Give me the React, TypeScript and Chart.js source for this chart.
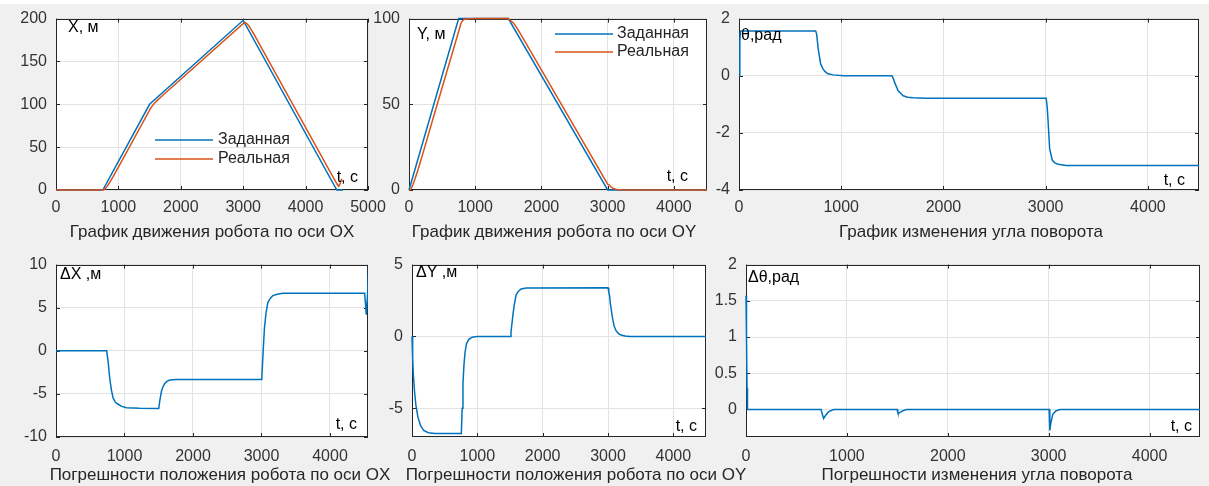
import React, { useEffect, useRef } from "react";
import { Chart, registerables } from "chart.js";

Chart.register(...registerables);

const BLUE = "#0072BD";
const ORANGE = "#D95319";
const GRID = "#e2e2e2";
const BOX = "#262626";
const TICKC = "#333333";
const FONT = "'Liberation Sans', Arial, Helvetica, sans-serif";
const FS_TICK = 16;
const FS_TEXT = 16;
const FS_TITLE = 17;

// ---------- data ----------
// Panel 1: X, м
const xSetT = [0, 750, 1500, 3000, 4500, 4600];
const xSetV = [0, 0, 100, 198, 0, 0];
const xRealT = [0, 745, 760, 786, 810, 835, 870, 908, 960, 1029, 1500, 1515, 1539, 1560, 1587, 1620, 1660, 1757, 3003, 3015, 3030, 3044, 3065, 3092, 3130, 3165, 3230, 3311, 4505, 4518, 4530, 4545, 4580];
const xRealV = [0, 0, 0.13, 1.5, 3.4, 5.83, 10, 14.87, 21.55, 30.6, 93.3, 95.18, 97.85, 99.72, 101.88, 104.29, 107.05, 113.46, 194.27, 194.52, 194.84, 194.89, 193.72, 191.46, 186.94, 182.62, 174.19, 163.62, 6.67, 5.5, 4.2, 6.0, 13];

// Panel 2: Y, м
const ySetT = [0, 750, 1500, 3000, 4500];
const ySetV = [0, 100, 100, 0, 0];
const yRealT = [0, 10, 20, 40, 60, 90, 130, 180, 250, 350, 755, 768, 780, 795, 812, 835, 870, 920, 1000, 1500, 1515, 1530, 1545, 1565, 1594, 1630, 1670, 1750, 3000, 3012, 3025, 3036, 3055, 3072, 3095, 3123, 3160, 3200, 3260, 3330, 4500];
const yRealV = [0, 0, 0.07, 1.43, 3.2, 6.4, 11.13, 17.45, 26.63, 39.92, 93.25, 95, 96.7, 98, 98.9, 99.5, 99.8, 99.95, 100, 100, 99.3, 98.9, 98.5, 97.87, 96.63, 94.48, 91.97, 86.7, 3.38, 3.1, 2.8, 2.3, 1.7, 1.2, 0.7, 0.4, 0.2, 0.1, 0.03, 0, 0];

// Panel 3: θ, рад
const thT = [0, 8, 15, 750, 760, 775, 798, 820, 840, 870, 922, 1020, 1495, 1510, 1524, 1557, 1606, 1650, 1704, 1834, 3005, 3015, 3023, 3039, 3065, 3090, 3121, 3202, 4500];
const thV = [0, 1.2, 1.57, 1.57, 1.45, 0.94, 0.43, 0.25, 0.15, 0.07, 0.03, 0, 0, -0.1, -0.25, -0.53, -0.7, -0.75, -0.77, -0.785, -0.785, -1.1, -1.55, -2.56, -2.96, -3.05, -3.1, -3.14, -3.14];

// Panel 4: ΔX, м
const dxT = [0, 740, 760, 786, 810, 835, 870, 908, 960, 1029, 1223, 1500, 1515, 1539, 1560, 1587, 1620, 1660, 1757, 3003, 3015, 3030, 3044, 3065, 3092, 3130, 3165, 3230, 3311, 4505, 4518, 4530, 4545, 4580];
const dxV = [0, 0, -1.2, -3.3, -4.6, -5.5, -6.0, -6.2, -6.45, -6.6, -6.67, -6.7, -5.8, -4.7, -4.2, -3.8, -3.55, -3.4, -3.33, -3.33, -1.5, 0.8, 2.7, 4.3, 5.6, 6.1, 6.4, 6.55, 6.67, 6.67, 5.5, 4.2, 6.0, 13];

// Panel 5: ΔY, м
const dyT = [0, 10, 20, 40, 60, 90, 130, 180, 250, 350, 755, 768, 780, 795, 812, 835, 870, 920, 1000, 1500, 1515, 1530, 1545, 1565, 1594, 1630, 1670, 1750, 3000, 3012, 3025, 3036, 3055, 3072, 3095, 3123, 3160, 3200, 3260, 3330, 4500];
const dyV = [0, -1.5, -2.6, -3.9, -4.8, -5.6, -6.2, -6.55, -6.7, -6.75, -6.75, -5.0, -3.3, -2.0, -1.1, -0.5, -0.2, -0.05, 0, 0, 0.3, 0.9, 1.5, 2.2, 2.9, 3.15, 3.3, 3.37, 3.38, 3.1, 2.8, 2.3, 1.7, 1.2, 0.7, 0.4, 0.2, 0.1, 0.03, 0, 0];

// Panel 6: Δθ, рад
const dthT = [0, 5, 10, 15, 745, 755, 769, 790, 820, 868, 1498, 1505, 1511, 1530, 1560, 1594, 3005, 3010, 3013, 3020, 3040, 3070, 3112, 4500];
const dthV = [1.57, 1.0, 0.3, 0, 0, -0.06, -0.125, -0.08, -0.03, 0, 0, -0.04, -0.06, -0.035, -0.015, 0, 0, -0.15, -0.29, -0.2, -0.07, -0.02, 0, 0];

// tick labels
const xTicks5000 = [0, 1000, 2000, 3000, 4000, 5000];
const xTicks4500 = [0, 1000, 2000, 3000, 4000];
const yTicksX = [0, 50, 100, 150, 200];
const yTicksY = [0, 50, 100];
const yTicksTh = [-4, -2, 0, 2];
const yTicksDx = [-10, -5, 0, 5, 10];
const yTicksDy = [-5, 0, 5];
const yTicksDth = [0, 0.5, 1, 1.5, 2];

const seriesNames = ["Заданная", "Реальная"];

// ---------- layout ----------
const PADL = 70;
const PADR = 60;
const PADT = 14;
const PADB = 56;

type Txt = { text: string; x: number; y: number; align: CanvasTextAlign; title?: boolean };
type Series = { label: string; t: number[]; v: number[]; color: string; order: number };
type PanelCfg = {
  id: string;
  plot: [number, number, number, number];
  xMax: number;
  xTicks: number[];
  yMin: number;
  yMax: number;
  yTicks: number[];
  series: Series[];
  texts: Txt[];
  legend?: { x1: number; x2: number; tx: number; ys: number[] };
  tickPad: number;
};

const pts = (t: number[], v: number[]) => t.map((x, i) => ({ x, y: v[i] }));

const panels: PanelCfg[] = [
  {
    id: "p1",
    plot: [56, 14, 368, 190],
    xMax: 5000,
    xTicks: xTicks5000,
    yMin: 0,
    yMax: 200,
    yTicks: yTicksX,
    series: [
      { label: seriesNames[0], t: xSetT, v: xSetV, color: BLUE, order: 1 },
      { label: seriesNames[1], t: xRealT, v: xRealV, color: ORANGE, order: 0 },
    ],
    texts: [
      { text: "X, м", x: 68, y: 28, align: "left" },
      { text: "t, с", x: 358, y: 178, align: "right" },
      { text: "График движения робота по оси OX", x: 212, y: 232, align: "center", title: true },
    ],
    legend: { x1: 155, x2: 213, tx: 218, ys: [140, 159] },
    tickPad: 8,
  },
  {
    id: "p2",
    plot: [409, 14, 707, 190],
    xMax: 4500,
    xTicks: xTicks4500,
    yMin: 0,
    yMax: 100,
    yTicks: yTicksY,
    series: [
      { label: seriesNames[0], t: ySetT, v: ySetV, color: BLUE, order: 1 },
      { label: seriesNames[1], t: yRealT, v: yRealV, color: ORANGE, order: 0 },
    ],
    texts: [
      { text: "Y, м", x: 417, y: 35, align: "left" },
      { text: "t, с", x: 688, y: 177, align: "right" },
      { text: "График движения робота по оси OY", x: 554, y: 232, align: "center", title: true },
    ],
    legend: { x1: 555, x2: 613, tx: 617, ys: [34, 52] },
    tickPad: 8,
  },
  {
    id: "p3",
    plot: [739, 14, 1199, 190],
    xMax: 4500,
    xTicks: xTicks4500,
    yMin: -4,
    yMax: 2,
    yTicks: yTicksTh,
    series: [{ label: "θ", t: thT, v: thV, color: BLUE, order: 0 }],
    texts: [
      { text: "θ,рад", x: 741, y: 36, align: "left" },
      { text: "t, с", x: 1185, y: 181, align: "right" },
      { text: "График изменения угла поворота", x: 971, y: 232, align: "center", title: true },
    ],
    tickPad: 8,
  },
  {
    id: "p4",
    plot: [56, 260, 368, 437],
    xMax: 4555,
    xTicks: xTicks4500,
    yMin: -10,
    yMax: 10,
    yTicks: yTicksDx,
    series: [{ label: "ΔX", t: dxT, v: dxV, color: BLUE, order: 0 }],
    texts: [
      { text: "ΔX ,м", x: 60, y: 275, align: "left" },
      { text: "t, с", x: 357, y: 425, align: "right" },
      { text: "Погрешности положения робота по оси OX", x: 220, y: 475, align: "center", title: true },
    ],
    tickPad: 10,
  },
  {
    id: "p5",
    plot: [412, 260, 706, 437],
    xMax: 4500,
    xTicks: xTicks4500,
    yMin: -7,
    yMax: 5,
    yTicks: yTicksDy,
    series: [{ label: "ΔY", t: dyT, v: dyV, color: BLUE, order: 0 }],
    texts: [
      { text: "ΔY ,м", x: 416, y: 273, align: "left" },
      { text: "t, с", x: 697, y: 427, align: "right" },
      { text: "Погрешности положения робота по оси OY", x: 576, y: 475, align: "center", title: true },
    ],
    tickPad: 10,
  },
  {
    id: "p6",
    plot: [746, 260, 1200, 437],
    xMax: 4500,
    xTicks: xTicks4500,
    yMin: -0.38,
    yMax: 2,
    yTicks: yTicksDth,
    series: [{ label: "Δθ", t: dthT, v: dthV, color: BLUE, order: 0 }],
    texts: [
      { text: "Δθ,рад", x: 748, y: 278, align: "left" },
      { text: "t, с", x: 1192, y: 427, align: "right" },
      { text: "Погрешности изменения угла поворота", x: 977, y: 475, align: "center", title: true },
    ],
    tickPad: 10,
  },
];

function Panel({ cfg }: { cfg: PanelCfg }) {
  const ref = useRef<HTMLCanvasElement | null>(null);
  const [l, t, r, b] = cfg.plot;
  const cl = l - PADL;
  const ct = t - PADT;
  const cw = r - l + PADL + PADR;
  const ch = b - t + PADT + PADB;

  useEffect(() => {
    if (!ref.current) return;
    const deco = {
      id: "deco_" + cfg.id,
      beforeDraw(chart: any) {
        const { ctx, chartArea: a } = chart;
        ctx.save();
        ctx.fillStyle = "#ffffff";
        ctx.fillRect(a.left, a.top, a.right - a.left, a.bottom - a.top);
        ctx.restore();
      },
      beforeDatasetsDraw(chart: any) {
        const { ctx, chartArea: a, scales } = chart;
        ctx.save();
        ctx.strokeStyle = BOX;
        ctx.lineWidth = 1;
        ctx.strokeRect(Math.round(a.left) + 0.5, Math.round(a.top) + 0.5, Math.round(a.right - a.left) - 1, Math.round(a.bottom - a.top) - 1);
        const TL = 4;
        ctx.beginPath();
        for (const tk of scales.x.ticks) {
          const px = Math.round(scales.x.getPixelForValue(tk.value)) + 0.5;
          ctx.moveTo(px, a.bottom);
          ctx.lineTo(px, a.bottom - TL);
          ctx.moveTo(px, a.top);
          ctx.lineTo(px, a.top + TL);
        }
        for (const tk of scales.y.ticks) {
          const py = Math.round(scales.y.getPixelForValue(tk.value)) + 0.5;
          ctx.moveTo(a.left, py);
          ctx.lineTo(a.left + TL, py);
          ctx.moveTo(a.right, py);
          ctx.lineTo(a.right - TL, py);
        }
        ctx.stroke();
        ctx.restore();
      },
      afterDatasetsDraw(chart: any) {
        const { ctx } = chart;
        ctx.save();
        ctx.textBaseline = "middle";
        for (const tx of cfg.texts) {
          ctx.font = `${tx.title ? FS_TITLE : FS_TEXT}px ${FONT}`;
          ctx.fillStyle = tx.title ? "#262626" : "#000000";
          ctx.textAlign = tx.align;
          ctx.fillText(tx.text, tx.x - cl, tx.y - ct);
        }
        if (cfg.legend) {
          const lg = cfg.legend;
          ctx.font = `${FS_TEXT}px ${FONT}`;
          cfg.series.forEach((s, i) => {
            const y = lg.ys[i] - ct;
            ctx.strokeStyle = s.color;
            ctx.lineWidth = 1.5;
            ctx.beginPath();
            ctx.moveTo(lg.x1 - cl, y);
            ctx.lineTo(lg.x2 - cl, y);
            ctx.stroke();
            ctx.fillStyle = "#262626";
            ctx.textAlign = "left";
            ctx.fillText(s.label, lg.tx - cl, y);
          });
        }
        ctx.restore();
      },
    };

    const tickFont = { family: FONT, size: FS_TICK };
    const chart = new Chart(ref.current, {
      type: "line",
      data: {
        datasets: cfg.series.map((s) => ({
          label: s.label,
          data: pts(s.t, s.v),
          borderColor: s.color,
          backgroundColor: s.color,
          borderWidth: 1.5,
          pointRadius: 0,
          tension: 0,
          fill: false,
          order: s.order,
          clip: { left: 1, top: 2, right: 0, bottom: 2 },
        })),
      },
      options: {
        animation: false,
        responsive: false,
        maintainAspectRatio: false,
        devicePixelRatio: 1,
        events: [],
        layout: { padding: { left: 0, top: PADT, right: PADR, bottom: 0 } },
        plugins: { legend: { display: false }, tooltip: { enabled: false }, title: { display: false } },
        scales: {
          x: {
            type: "linear",
            min: 0,
            max: cfg.xMax,
            afterBuildTicks: (s: any) => {
              s.ticks = cfg.xTicks.map((value) => ({ value }));
            },
            afterFit: (s: any) => {
              s.height = PADB;
            },
            grid: { color: GRID, drawTicks: false, lineWidth: 1 },
            border: { display: false },
            ticks: {
              padding: cfg.tickPad,
              color: TICKC,
              font: tickFont,
              maxRotation: 0,
              autoSkip: false,
              callback: (v: any) => String(v),
            },
          },
          y: {
            type: "linear",
            min: cfg.yMin,
            max: cfg.yMax,
            afterBuildTicks: (s: any) => {
              s.ticks = cfg.yTicks.map((value) => ({ value }));
            },
            afterFit: (s: any) => {
              s.width = PADL;
            },
            grid: { color: GRID, drawTicks: false, lineWidth: 1 },
            border: { display: false },
            ticks: {
              padding: 9,
              color: TICKC,
              font: tickFont,
              autoSkip: false,
              callback: (v: any) => String(v),
            },
          },
        },
      },
      plugins: [deco],
    } as any);
    return () => chart.destroy();
  }, []);

  return (
    <canvas
      ref={ref}
      width={cw}
      height={ch}
      style={{ position: "absolute", left: cl, top: ct, width: cw, height: ch }}
    />
  );
}

export default function App() {
  return (
    <div
      style={{
        position: "fixed",
        left: 0,
        top: 0,
        width: 1209,
        height: 486,
        background: "#f0f0f0",
        overflow: "hidden",
      }}
    >
      <div style={{ position: "absolute", left: 0, top: 0, width: 1209, height: 4, background: "#ffffff" }} />
      {panels.map((p) => (
        <Panel key={p.id} cfg={p} />
      ))}
    </div>
  );
}
